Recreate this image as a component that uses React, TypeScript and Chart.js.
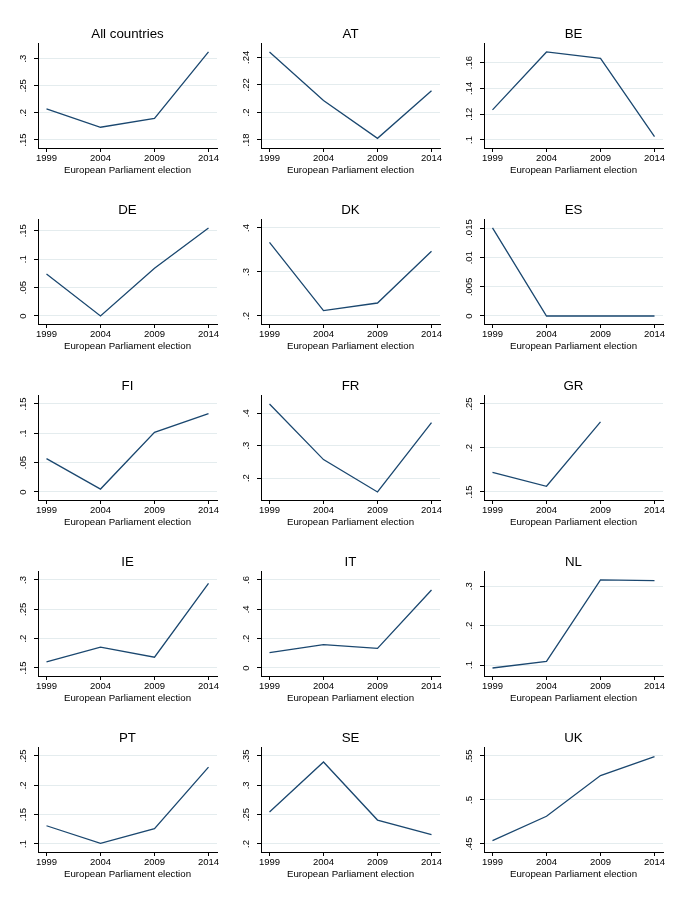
import React, { useEffect, useRef } from 'react';
import { Chart, registerables } from 'chart.js';

Chart.register(...registerables);

// ---- data ----
const YEARS = [1999, 2004, 2009, 2014];
const X_TITLE = 'European Parliament election';

const ALL_VALUES = [0.2074, 0.1735, 0.19, 0.3123];
const AT_VALUES = [0.2439, 0.2087, 0.1812, 0.2158];
const BE_VALUES = [0.1234, 0.1683, 0.1633, 0.1026];
const DE_VALUES = [0.0737, 0.0, 0.0841, 0.1549];
const DK_VALUES = [0.3674, 0.2121, 0.2295, 0.347];
const ES_VALUES = [0.0151, 0.0, 0.0, 0.0];
const FI_VALUES = [0.0568, 0.005, 0.1017, 0.1335];
const FR_VALUES = [0.4287, 0.257, 0.157, 0.371];
const GR_VALUES = [0.1724, 0.1565, 0.2297, null];
const IE_VALUES = [0.1603, 0.1855, 0.1683, 0.2943];
const IT_VALUES = [0.1045, 0.159, 0.134, 0.532];
const NL_VALUES = [0.0924, 0.1093, 0.316, 0.3144];
const PT_VALUES = [0.1311, 0.1011, 0.126, 0.2311];
const SE_VALUES = [0.2546, 0.3397, 0.2408, 0.2161];
const UK_VALUES = [0.4538, 0.4815, 0.5277, 0.5492];

const ALL_TICKS = [0.15, 0.2, 0.25, 0.3];
const AT_TICKS = [0.18, 0.2, 0.22, 0.24];
const BE_TICKS = [0.1, 0.12, 0.14, 0.16];
const DE_TICKS = [0, 0.05, 0.1, 0.15];
const DK_TICKS = [0.2, 0.3, 0.4];
const ES_TICKS = [0, 0.005, 0.01, 0.015];
const FI_TICKS = [0, 0.05, 0.1, 0.15];
const FR_TICKS = [0.2, 0.3, 0.4];
const GR_TICKS = [0.15, 0.2, 0.25];
const IE_TICKS = [0.15, 0.2, 0.25, 0.3];
const IT_TICKS = [0, 0.2, 0.4, 0.6];
const NL_TICKS = [0.1, 0.2, 0.3];
const PT_TICKS = [0.1, 0.15, 0.2, 0.25];
const SE_TICKS = [0.2, 0.25, 0.3, 0.35];
const UK_TICKS = [0.45, 0.5, 0.55];

const PANELS = [
  { name: 'All countries', values: ALL_VALUES, ticks: ALL_TICKS },
  { name: 'AT', values: AT_VALUES, ticks: AT_TICKS },
  { name: 'BE', values: BE_VALUES, ticks: BE_TICKS },
  { name: 'DE', values: DE_VALUES, ticks: DE_TICKS },
  { name: 'DK', values: DK_VALUES, ticks: DK_TICKS },
  { name: 'ES', values: ES_VALUES, ticks: ES_TICKS },
  { name: 'FI', values: FI_VALUES, ticks: FI_TICKS },
  { name: 'FR', values: FR_VALUES, ticks: FR_TICKS },
  { name: 'GR', values: GR_VALUES, ticks: GR_TICKS },
  { name: 'IE', values: IE_VALUES, ticks: IE_TICKS },
  { name: 'IT', values: IT_VALUES, ticks: IT_TICKS },
  { name: 'NL', values: NL_VALUES, ticks: NL_TICKS },
  { name: 'PT', values: PT_VALUES, ticks: PT_TICKS },
  { name: 'SE', values: SE_VALUES, ticks: SE_TICKS },
  { name: 'UK', values: UK_VALUES, ticks: UK_TICKS },
];

// ---- layout / style ----
const FONT = "'Liberation Sans', Arial, Helvetica, sans-serif";
const LINE_COLOR = '#1a476f';
const GRID_COLOR = '#e4ecee';
const AXIS_COLOR = '#000000';
const CANVAS_W = 223;
const CANVAS_H = 176;
const COL_STEP = 223;
const ROW_STEP = 176;
const AXIS_W = 38;
const PAD_RIGHT = 6;
const X_AXIS_H = 28;
const PLOT_H = 104;
const PLOT_W = 179;
const INSET_Y = 8;
const INSET_X = 8.5;
const TICK_LEN = 4;
const TICK_FONT_SIZE = 9.5;
const LABEL_CENTER_GAP = 14.5; // distance from y axis line to rotated label centre

function fmt(v: number): string {
  if (v === 0) return '0';
  const s = String(+v.toFixed(6));
  return s.replace(/^0\./, '.').replace(/^-0\./, '-.');
}

let measureCtx: CanvasRenderingContext2D | null = null;
function widest(labels: string[], size: number): number {
  if (!measureCtx) measureCtx = document.createElement('canvas').getContext('2d');
  const ctx = measureCtx as CanvasRenderingContext2D;
  ctx.font = `normal ${size}px ${FONT}`;
  return Math.max(...labels.map((l) => ctx.measureText(l).width));
}

function Panel({ spec, left, top }: { spec: any; left: number; top: number }) {
  const ref = useRef<HTMLCanvasElement>(null);
  useEffect(() => {
    const canvas = ref.current;
    if (!canvas) return;
    const vals = spec.values.filter((v: number | null) => v !== null) as number[];
    const lo = Math.min(spec.ticks[0], ...vals);
    const hi = Math.max(spec.ticks[spec.ticks.length - 1], ...vals);
    const padY = ((hi - lo) * INSET_Y) / (PLOT_H - 2 * INSET_Y);
    const xSpan = YEARS[YEARS.length - 1] - YEARS[0];
    const padX = (xSpan * INSET_X) / (PLOT_W - 2 * INSET_X);
    const labels = spec.ticks.map(fmt);
    const wid = widest(labels, TICK_FONT_SIZE);
    const yTickPadding = LABEL_CENTER_GAP - TICK_LEN - wid / 2;

    const chart = new Chart(canvas, {
      type: 'line',
      data: {
        datasets: [
          {
            data: YEARS.map((y, i) => ({ x: y, y: spec.values[i] })),
            borderColor: LINE_COLOR,
            borderWidth: 1.3,
            pointRadius: 0,
            pointHoverRadius: 0,
            tension: 0,
            spanGaps: false,
            fill: false,
          },
        ],
      },
      options: {
        animation: false,
        responsive: false,
        events: [],
        layout: { padding: { left: 0, right: PAD_RIGHT, top: 0, bottom: 0 } },
        plugins: {
          legend: { display: false },
          tooltip: { enabled: false },
          title: {
            display: true,
            text: spec.name,
            fullSize: false,
            color: '#000',
            font: { family: FONT, size: 13.3, weight: 'normal', lineHeight: 1.2 },
            padding: { top: 26, bottom: 2 },
          },
        },
        scales: {
          x: {
            type: 'linear',
            min: YEARS[0] - padX,
            max: YEARS[YEARS.length - 1] + padX,
            afterBuildTicks: (s: any) => {
              s.ticks = YEARS.map((v) => ({ value: v }));
            },
            afterFit: (s: any) => {
              s.height = X_AXIS_H;
            },
            ticks: {
              callback: (v: any) => String(v),
              autoSkip: false,
              maxRotation: 0,
              minRotation: 0,
              padding: 0.5,
              color: '#000',
              font: { family: FONT, size: TICK_FONT_SIZE, lineHeight: 1.2 },
            },
            grid: {
              drawOnChartArea: false,
              drawTicks: true,
              tickLength: TICK_LEN,
              tickColor: AXIS_COLOR,
              tickWidth: 1,
            },
            border: { display: true, color: AXIS_COLOR, width: 1 },
            title: {
              display: true,
              text: X_TITLE,
              color: '#000',
              font: { family: FONT, size: 9.7, lineHeight: 1.2 },
              padding: { top: 0, bottom: 0 },
            },
          },
          y: {
            type: 'linear',
            min: lo - padY,
            max: hi + padY,
            afterBuildTicks: (s: any) => {
              s.ticks = spec.ticks.map((v: number) => ({ value: v }));
            },
            afterFit: (s: any) => {
              s.width = AXIS_W;
            },
            ticks: {
              callback: (v: any) => fmt(Number(v)),
              autoSkip: false,
              minRotation: 90,
              maxRotation: 90,
              crossAlign: 'center',
              padding: yTickPadding,
              color: '#000',
              font: { family: FONT, size: TICK_FONT_SIZE, lineHeight: 1.2 },
            },
            grid: {
              color: GRID_COLOR,
              lineWidth: 1,
              drawTicks: true,
              tickLength: TICK_LEN,
              tickColor: AXIS_COLOR,
              tickWidth: 1,
            },
            border: { display: true, color: AXIS_COLOR, width: 1 },
          },
        },
      } as any,
    });
    return () => chart.destroy();
  }, [spec]);

  return (
    <canvas
      ref={ref}
      width={CANVAS_W}
      height={CANVAS_H}
      style={{ position: 'absolute', left, top, width: CANVAS_W, height: CANVAS_H }}
    />
  );
}

export default function App() {
  return (
    <div
      style={{
        position: 'absolute',
        left: 0,
        top: 0,
        width: 680,
        height: 910,
        background: '#ffffff',
        overflow: 'hidden',
      }}
    >
      {PANELS.map((p, i) => (
        <Panel key={p.name} spec={p} left={(i % 3) * COL_STEP} top={Math.floor(i / 3) * ROW_STEP} />
      ))}
    </div>
  );
}
